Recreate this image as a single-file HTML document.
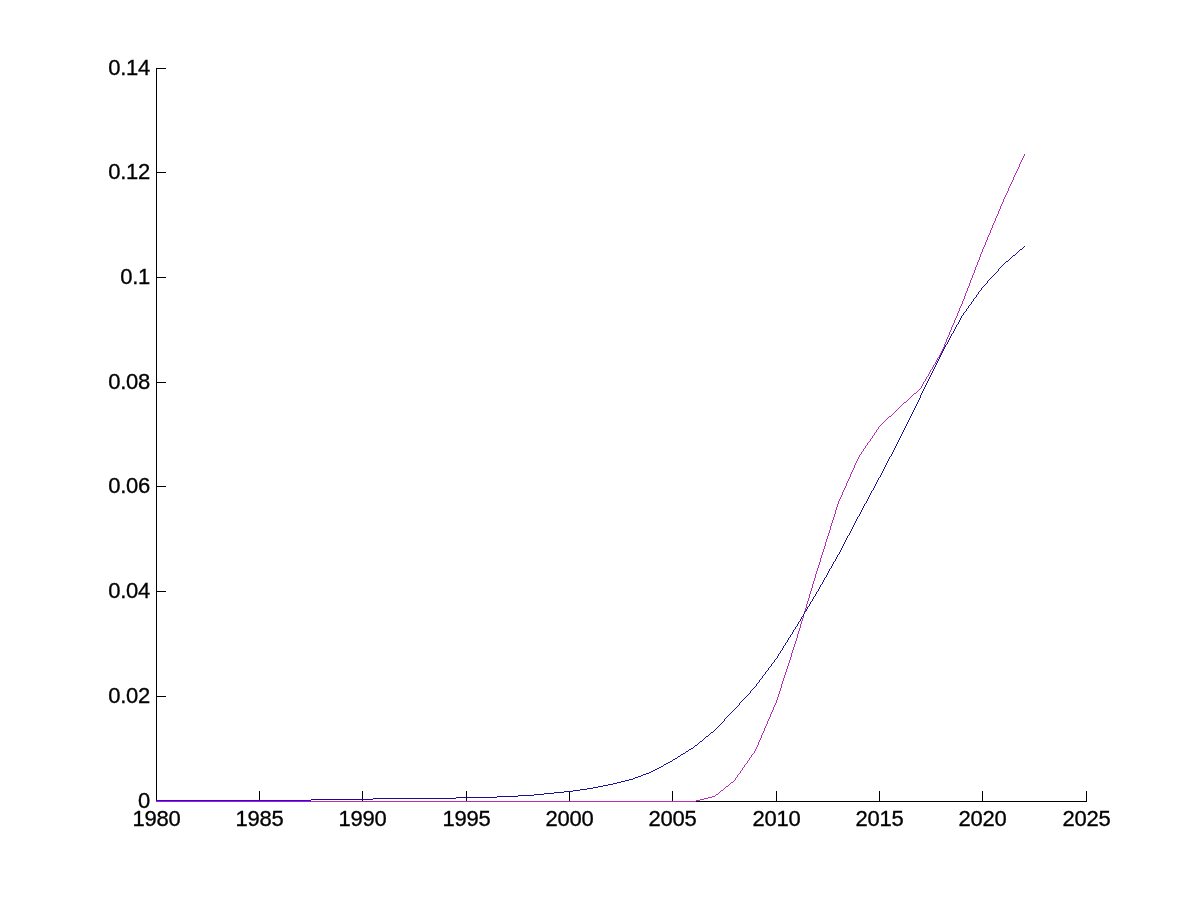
<!DOCTYPE html>
<html><head><meta charset="utf-8"><title>figure</title>
<style>
html,body{margin:0;padding:0;background:#fff}
svg{display:block}
text{font-family:"Liberation Sans",Arial,Helvetica,sans-serif;font-size:22px;fill:#000;stroke:#000;stroke-width:0.32px;letter-spacing:-0.22px}
</style></head><body>
<svg width="1200" height="900" viewBox="0 0 1200 900">
<rect width="1200" height="900" fill="#fff"/>
<g shape-rendering="crispEdges" stroke="none">
<g fill="#000">
<rect x="156" y="68" width="1" height="734"/>
<rect x="156" y="801" width="931" height="1"/>
<rect x="156" y="791" width="1" height="10"/>
<rect x="259" y="791" width="1" height="10"/>
<rect x="362" y="791" width="1" height="10"/>
<rect x="466" y="791" width="1" height="10"/>
<rect x="569" y="791" width="1" height="10"/>
<rect x="672" y="791" width="1" height="10"/>
<rect x="776" y="791" width="1" height="10"/>
<rect x="879" y="791" width="1" height="10"/>
<rect x="982" y="791" width="1" height="10"/>
<rect x="1086" y="791" width="1" height="10"/>
<rect x="156" y="801" width="10" height="1"/>
<rect x="156" y="696" width="10" height="1"/>
<rect x="156" y="591" width="10" height="1"/>
<rect x="156" y="486" width="10" height="1"/>
<rect x="156" y="382" width="10" height="1"/>
<rect x="156" y="277" width="10" height="1"/>
<rect x="156" y="172" width="10" height="1"/>
<rect x="156" y="68" width="10" height="1"/>
</g>
<path fill="#8c23f0" d="M156 801h155v1h-155z"/>
<path fill="#b92db9" d="M311 801h385v1h-385z"/>
<path fill="#b42cb4" d="M696 800h4v1h-4zM700 799h4v1h-4zM704 798h4v1h-4zM708 797h4v1h-4zM712 796h3v1h-3zM715 795h1v1h-1zM716 794h2v1h-2zM718 793h1v1h-1zM719 792h1v1h-1zM720 791h1v1h-1zM721 790h2v1h-2zM723 789h1v1h-1zM724 788h1v1h-1zM725 787h1v1h-1zM726 786h2v1h-2zM728 785h1v1h-1zM729 784h1v1h-1zM730 783h1v1h-1zM731 782h2v1h-2zM733 781h1v1h-1zM734 780h1v1h-1zM735 778h1v2h-1zM736 777h1v1h-1zM737 775h1v2h-1zM738 774h1v1h-1zM739 773h1v1h-1zM740 771h1v2h-1zM741 770h1v1h-1zM742 768h1v2h-1zM743 767h1v1h-1zM744 765h1v2h-1zM745 764h1v1h-1zM746 763h1v1h-1zM747 761h1v2h-1zM748 760h1v1h-1zM749 758h1v2h-1zM750 757h1v1h-1zM751 755h1v2h-1zM752 754h1v1h-1zM753 753h1v1h-1zM754 751h1v2h-1zM755 749h1v2h-1zM756 747h1v2h-1zM757 745h1v2h-1zM758 742h1v3h-1zM759 740h1v2h-1zM760 738h1v2h-1zM761 735h1v3h-1zM762 733h1v2h-1zM763 731h1v2h-1zM764 728h1v3h-1zM765 726h1v2h-1zM766 724h1v2h-1zM767 721h1v3h-1zM768 719h1v2h-1zM769 717h1v2h-1zM770 714h1v3h-1zM771 712h1v2h-1zM772 710h1v2h-1zM773 707h1v3h-1zM774 705h1v2h-1zM775 703h1v2h-1zM776 700h1v3h-1zM777 697h1v3h-1zM778 694h1v3h-1zM779 691h1v3h-1zM780 688h1v3h-1zM781 684h1v4h-1zM782 681h1v3h-1zM783 678h1v3h-1zM784 675h1v3h-1zM785 672h1v3h-1zM786 669h1v3h-1zM787 666h1v3h-1zM788 663h1v3h-1zM789 660h1v3h-1zM790 657h1v3h-1zM791 653h1v4h-1zM792 650h1v3h-1zM793 647h1v3h-1zM794 644h1v3h-1zM795 641h1v3h-1zM796 638h1v3h-1zM797 634h1v4h-1zM798 631h1v3h-1zM799 628h1v3h-1zM800 624h1v4h-1zM801 621h1v3h-1zM802 618h1v3h-1zM803 614h1v4h-1zM804 611h1v3h-1zM805 608h1v3h-1zM806 604h1v4h-1zM807 601h1v3h-1zM808 598h1v3h-1zM809 594h1v4h-1zM810 591h1v3h-1zM811 588h1v3h-1zM812 584h1v4h-1zM813 581h1v3h-1zM814 578h1v3h-1zM815 574h1v4h-1zM816 571h1v3h-1zM817 568h1v3h-1zM818 565h1v3h-1zM819 562h1v3h-1zM820 558h1v4h-1zM821 555h1v3h-1zM822 552h1v3h-1zM823 549h1v3h-1zM824 546h1v3h-1zM825 542h1v4h-1zM826 539h1v3h-1zM827 536h1v3h-1zM828 533h1v3h-1zM829 530h1v3h-1zM830 526h1v4h-1zM831 523h1v3h-1zM832 520h1v3h-1zM833 517h1v3h-1zM834 514h1v3h-1zM835 510h1v4h-1zM836 507h1v3h-1zM837 504h1v3h-1zM838 501h1v3h-1zM839 499h1v2h-1zM840 497h1v2h-1zM841 495h1v2h-1zM842 492h1v3h-1zM843 490h1v2h-1zM844 488h1v2h-1zM845 486h1v2h-1zM846 483h1v3h-1zM847 481h1v2h-1zM848 479h1v2h-1zM849 477h1v2h-1zM850 474h1v3h-1zM851 472h1v2h-1zM852 470h1v2h-1zM853 468h1v2h-1zM854 465h1v3h-1zM855 463h1v2h-1zM856 461h1v2h-1zM857 459h1v2h-1zM858 457h1v2h-1zM859 455h1v2h-1zM860 454h1v1h-1zM861 452h1v2h-1zM862 451h1v1h-1zM863 449h1v2h-1zM864 448h1v1h-1zM865 446h1v2h-1zM866 445h1v1h-1zM867 443h1v2h-1zM868 442h1v1h-1zM869 441h1v1h-1zM870 439h1v2h-1zM871 438h1v1h-1zM872 436h1v2h-1zM873 435h1v1h-1zM874 433h1v2h-1zM875 432h1v1h-1zM876 430h1v2h-1zM877 429h1v1h-1zM878 427h1v2h-1zM879 426h1v1h-1zM880 425h1v1h-1zM881 424h1v1h-1zM882 423h1v1h-1zM883 422h1v1h-1zM884 421h1v1h-1zM885 420h1v1h-1zM886 419h1v1h-1zM887 418h1v1h-1zM888 417h1v1h-1zM889 416h2v1h-2zM891 415h1v1h-1zM892 414h1v1h-1zM893 413h1v1h-1zM894 412h1v1h-1zM895 411h1v1h-1zM896 410h1v1h-1zM897 409h1v1h-1zM898 408h1v1h-1zM899 407h1v1h-1zM900 406h1v1h-1zM901 405h1v1h-1zM902 404h1v1h-1zM903 403h1v1h-1zM904 402h2v1h-2zM906 401h1v1h-1zM907 400h1v1h-1zM908 399h1v1h-1zM909 398h1v1h-1zM910 397h1v1h-1zM911 396h1v1h-1zM912 395h1v1h-1zM913 394h1v1h-1zM914 393h2v1h-2zM916 392h1v1h-1zM917 391h1v1h-1zM918 390h1v1h-1zM919 389h1v1h-1zM920 388h1v1h-1zM921 386h1v2h-1zM922 384h1v2h-1zM923 382h1v2h-1zM924 381h1v1h-1zM925 379h1v2h-1zM926 377h1v2h-1zM927 376h1v1h-1zM928 374h1v2h-1zM929 372h1v2h-1zM930 370h1v2h-1zM931 369h1v1h-1zM932 367h1v2h-1zM933 365h1v2h-1zM934 364h1v1h-1zM935 362h1v2h-1zM936 360h1v2h-1zM937 358h1v2h-1zM938 357h1v1h-1zM939 355h1v2h-1zM940 353h1v2h-1zM941 351h1v2h-1zM942 349h1v2h-1zM943 347h1v2h-1zM944 344h1v3h-1zM945 342h1v2h-1zM946 339h1v3h-1zM947 337h1v2h-1zM948 335h1v2h-1zM949 332h1v3h-1zM950 330h1v2h-1zM951 327h1v3h-1zM952 325h1v2h-1zM953 323h1v2h-1zM954 320h1v3h-1zM955 318h1v2h-1zM956 316h1v2h-1zM957 313h1v3h-1zM958 311h1v2h-1zM959 308h1v3h-1zM960 306h1v2h-1zM961 304h1v2h-1zM962 301h1v3h-1zM963 299h1v2h-1zM964 296h1v3h-1zM965 293h1v3h-1zM966 291h1v2h-1zM967 288h1v3h-1zM968 286h1v2h-1zM969 283h1v3h-1zM970 280h1v3h-1zM971 278h1v2h-1zM972 275h1v3h-1zM973 273h1v2h-1zM974 270h1v3h-1zM975 267h1v3h-1zM976 265h1v2h-1zM977 262h1v3h-1zM978 260h1v2h-1zM979 257h1v3h-1zM980 254h1v3h-1zM981 252h1v2h-1zM982 249h1v3h-1zM983 247h1v2h-1zM984 245h1v2h-1zM985 242h1v3h-1zM986 240h1v2h-1zM987 237h1v3h-1zM988 235h1v2h-1zM989 233h1v2h-1zM990 230h1v3h-1zM991 228h1v2h-1zM992 225h1v3h-1zM993 223h1v2h-1zM994 221h1v2h-1zM995 218h1v3h-1zM996 216h1v2h-1zM997 214h1v2h-1zM998 211h1v3h-1zM999 209h1v2h-1zM1000 206h1v3h-1zM1001 204h1v2h-1zM1002 202h1v2h-1zM1003 199h1v3h-1zM1004 197h1v2h-1zM1005 195h1v2h-1zM1006 193h1v2h-1zM1007 191h1v2h-1zM1008 188h1v3h-1zM1009 186h1v2h-1zM1010 184h1v2h-1zM1011 182h1v2h-1zM1012 180h1v2h-1zM1013 177h1v3h-1zM1014 175h1v2h-1zM1015 173h1v2h-1zM1016 171h1v2h-1zM1017 169h1v2h-1zM1018 167h1v2h-1zM1019 164h1v3h-1zM1020 162h1v2h-1zM1021 160h1v2h-1zM1022 158h1v2h-1zM1023 156h1v2h-1zM1024 154h1v2h-1z"/>
<path fill="#4b00b9" d="M156 800h155v1h-155z"/>
<path fill="#190c8c" d="M311 799h62v1h-62zM373 798h83v1h-83zM456 797h41v1h-41zM497 796h21v1h-21zM518 795h2v1h-2z"/>
<path fill="#161292" d="M520 795h14v1h-14zM534 794h10v1h-10zM544 793h10v1h-10zM554 792h10v1h-10zM564 791h9v1h-9zM573 790h7v1h-7zM580 789h7v1h-7zM587 788h6v1h-6zM593 787h5v1h-5zM598 786h5v1h-5zM603 785h5v1h-5zM608 784h5v1h-5zM613 783h4v1h-4zM617 782h4v1h-4zM621 781h4v1h-4zM625 780h4v1h-4zM629 779h4v1h-4zM633 778h2v1h-2zM635 777h3v1h-3zM638 776h3v1h-3zM641 775h2v1h-2zM643 774h3v1h-3zM646 773h3v1h-3zM649 772h2v1h-2zM651 771h2v1h-2zM653 770h2v1h-2zM655 769h2v1h-2zM657 768h2v1h-2zM659 767h2v1h-2zM661 766h2v1h-2zM663 765h1v1h-1zM664 764h2v1h-2zM666 763h2v1h-2zM668 762h2v1h-2zM670 761h2v1h-2zM672 760h1v1h-1zM673 759h2v1h-2zM675 758h2v1h-2zM677 757h1v1h-1zM678 756h2v1h-2zM680 755h1v1h-1zM681 754h2v1h-2zM683 753h2v1h-2zM685 752h1v1h-1zM686 751h2v1h-2zM688 750h1v1h-1zM689 749h2v1h-2zM691 748h2v1h-2zM693 747h1v1h-1zM694 746h1v1h-1zM695 745h2v1h-2zM697 744h1v1h-1zM698 743h1v1h-1zM699 742h1v1h-1zM700 741h2v1h-2zM702 740h1v1h-1zM703 739h1v1h-1zM704 738h1v1h-1zM705 737h1v1h-1zM706 736h2v1h-2zM708 735h1v1h-1zM709 734h1v1h-1zM710 733h1v1h-1zM711 732h2v1h-2zM713 731h1v1h-1zM714 730h1v1h-1zM715 729h1v1h-1zM716 728h1v1h-1zM717 727h1v1h-1zM718 726h1v1h-1zM719 725h1v1h-1zM720 724h1v1h-1zM721 723h1v1h-1zM722 722h1v1h-1zM723 721h1v1h-1zM724 719h1v2h-1zM725 718h1v1h-1zM726 717h1v1h-1zM727 716h1v1h-1zM728 715h1v1h-1zM729 714h1v1h-1zM730 713h1v1h-1zM731 712h1v1h-1zM732 711h1v1h-1zM733 710h1v1h-1zM734 709h1v1h-1zM735 708h1v1h-1zM736 707h1v1h-1zM737 706h1v1h-1zM738 705h1v1h-1zM739 703h1v2h-1zM740 702h1v1h-1zM741 701h1v1h-1zM742 700h1v1h-1zM743 699h1v1h-1zM744 698h1v1h-1zM745 697h1v1h-1zM746 696h1v1h-1zM747 695h1v1h-1zM748 694h1v1h-1zM749 693h1v1h-1zM750 691h1v2h-1zM751 690h1v1h-1zM752 689h1v1h-1zM753 688h1v1h-1zM754 687h1v1h-1zM755 686h1v1h-1zM756 684h1v2h-1zM757 683h1v1h-1zM758 682h1v1h-1zM759 680h1v2h-1zM760 679h1v1h-1zM761 678h1v1h-1zM762 676h1v2h-1zM763 675h1v1h-1zM764 674h1v1h-1zM765 672h1v2h-1zM766 671h1v1h-1zM767 670h1v1h-1zM768 668h1v2h-1zM769 667h1v1h-1zM770 666h1v1h-1zM771 664h1v2h-1zM772 663h1v1h-1zM773 662h1v1h-1zM774 660h1v2h-1zM775 659h1v1h-1zM776 658h1v1h-1zM777 656h1v2h-1zM778 654h1v2h-1zM779 653h1v1h-1zM780 651h1v2h-1zM781 650h1v1h-1zM782 648h1v2h-1zM783 646h1v2h-1zM784 645h1v1h-1zM785 643h1v2h-1zM786 642h1v1h-1zM787 640h1v2h-1zM788 638h1v2h-1zM789 637h1v1h-1zM790 635h1v2h-1zM791 634h1v1h-1zM792 632h1v2h-1zM793 630h1v2h-1zM794 629h1v1h-1zM795 627h1v2h-1zM796 626h1v1h-1zM797 624h1v2h-1zM798 622h1v2h-1zM799 621h1v1h-1zM800 619h1v2h-1zM801 617h1v2h-1zM802 616h1v1h-1zM803 614h1v2h-1zM804 612h1v2h-1zM805 611h1v1h-1zM806 609h1v2h-1zM807 607h1v2h-1zM808 606h1v1h-1zM809 604h1v2h-1zM810 602h1v2h-1zM811 601h1v1h-1zM812 599h1v2h-1zM813 597h1v2h-1zM814 596h1v1h-1zM815 594h1v2h-1zM816 592h1v2h-1zM817 591h1v1h-1zM818 589h1v2h-1zM819 587h1v2h-1zM820 585h1v2h-1zM821 584h1v1h-1zM822 582h1v2h-1zM823 580h1v2h-1zM824 578h1v2h-1zM825 577h1v1h-1zM826 575h1v2h-1zM827 573h1v2h-1zM828 571h1v2h-1zM829 569h1v2h-1zM830 568h1v1h-1zM831 566h1v2h-1zM832 564h1v2h-1zM833 562h1v2h-1zM834 561h1v1h-1zM835 559h1v2h-1zM836 557h1v2h-1zM837 555h1v2h-1zM838 554h1v1h-1zM839 552h1v2h-1zM840 550h1v2h-1zM841 548h1v2h-1zM842 546h1v2h-1zM843 544h1v2h-1zM844 542h1v2h-1zM845 540h1v2h-1zM846 538h1v2h-1zM847 536h1v2h-1zM848 535h1v1h-1zM849 533h1v2h-1zM850 531h1v2h-1zM851 529h1v2h-1zM852 527h1v2h-1zM853 525h1v2h-1zM854 523h1v2h-1zM855 521h1v2h-1zM856 519h1v2h-1zM857 517h1v2h-1zM858 516h1v1h-1zM859 514h1v2h-1zM860 512h1v2h-1zM861 510h1v2h-1zM862 508h1v2h-1zM863 506h1v2h-1zM864 504h1v2h-1zM865 503h1v1h-1zM866 501h1v2h-1zM867 499h1v2h-1zM868 497h1v2h-1zM869 495h1v2h-1zM870 493h1v2h-1zM871 491h1v2h-1zM872 490h1v1h-1zM873 488h1v2h-1zM874 486h1v2h-1zM875 484h1v2h-1zM876 482h1v2h-1zM877 480h1v2h-1zM878 478h1v2h-1zM879 477h1v1h-1zM880 475h1v2h-1zM881 473h1v2h-1zM882 471h1v2h-1zM883 469h1v2h-1zM884 467h1v2h-1zM885 465h1v2h-1zM886 463h1v2h-1zM887 461h1v2h-1zM888 459h1v2h-1zM889 457h1v2h-1zM890 456h1v1h-1zM891 454h1v2h-1zM892 452h1v2h-1zM893 450h1v2h-1zM894 448h1v2h-1zM895 446h1v2h-1zM896 444h1v2h-1zM897 442h1v2h-1zM898 440h1v2h-1zM899 438h1v2h-1zM900 436h1v2h-1zM901 434h1v2h-1zM902 432h1v2h-1zM903 430h1v2h-1zM904 428h1v2h-1zM905 426h1v2h-1zM906 424h1v2h-1zM907 422h1v2h-1zM908 420h1v2h-1zM909 418h1v2h-1zM910 416h1v2h-1zM911 414h1v2h-1zM912 412h1v2h-1zM913 410h1v2h-1zM914 408h1v2h-1zM915 406h1v2h-1zM916 404h1v2h-1zM917 402h1v2h-1zM918 400h1v2h-1zM919 398h1v2h-1zM920 395h1v3h-1zM921 393h1v2h-1zM922 391h1v2h-1zM923 389h1v2h-1zM924 387h1v2h-1zM925 385h1v2h-1zM926 383h1v2h-1zM927 381h1v2h-1zM928 379h1v2h-1zM929 377h1v2h-1zM930 375h1v2h-1zM931 373h1v2h-1zM932 371h1v2h-1zM933 369h1v2h-1zM934 367h1v2h-1zM935 365h1v2h-1zM936 363h1v2h-1zM937 361h1v2h-1zM938 359h1v2h-1zM939 357h1v2h-1zM940 355h1v2h-1zM941 353h1v2h-1zM942 351h1v2h-1zM943 349h1v2h-1zM944 347h1v2h-1zM945 345h1v2h-1zM946 344h1v1h-1zM947 342h1v2h-1zM948 340h1v2h-1zM949 338h1v2h-1zM950 336h1v2h-1zM951 334h1v2h-1zM952 333h1v1h-1zM953 331h1v2h-1zM954 329h1v2h-1zM955 327h1v2h-1zM956 325h1v2h-1zM957 324h1v1h-1zM958 322h1v2h-1zM959 320h1v2h-1zM960 318h1v2h-1zM961 316h1v2h-1zM962 315h1v1h-1zM963 313h1v2h-1zM964 312h1v1h-1zM965 311h1v1h-1zM966 309h1v2h-1zM967 308h1v1h-1zM968 306h1v2h-1zM969 305h1v1h-1zM970 304h1v1h-1zM971 302h1v2h-1zM972 301h1v1h-1zM973 299h1v2h-1zM974 298h1v1h-1zM975 297h1v1h-1zM976 295h1v2h-1zM977 294h1v1h-1zM978 292h1v2h-1zM979 291h1v1h-1zM980 290h1v1h-1zM981 288h1v2h-1zM982 287h1v1h-1zM983 286h1v1h-1zM984 285h1v1h-1zM985 284h1v1h-1zM986 283h1v1h-1zM987 281h1v2h-1zM988 280h1v1h-1zM989 279h1v1h-1zM990 278h1v1h-1zM991 277h1v1h-1zM992 276h1v1h-1zM993 275h1v1h-1zM994 274h1v1h-1zM995 273h1v1h-1zM996 272h1v1h-1zM997 271h1v1h-1zM998 269h1v2h-1zM999 268h1v1h-1zM1000 267h1v1h-1zM1001 266h1v1h-1zM1002 265h1v1h-1zM1003 264h1v1h-1zM1004 263h1v1h-1zM1005 262h1v1h-1zM1006 261h2v1h-2zM1008 260h1v1h-1zM1009 259h1v1h-1zM1010 258h1v1h-1zM1011 257h1v1h-1zM1012 256h1v1h-1zM1013 255h2v1h-2zM1015 254h1v1h-1zM1016 253h1v1h-1zM1017 252h1v1h-1zM1018 251h1v1h-1zM1019 250h1v1h-1zM1020 249h2v1h-2zM1022 248h1v1h-1zM1023 247h1v1h-1zM1024 246h1v1h-1z"/>
</g>
<g text-anchor="middle">
<text x="156.5" y="825.8">1980</text>
<text x="259.5" y="825.8">1985</text>
<text x="362.5" y="825.8">1990</text>
<text x="466.5" y="825.8">1995</text>
<text x="569.5" y="825.8">2000</text>
<text x="672.5" y="825.8">2005</text>
<text x="776.5" y="825.8">2010</text>
<text x="879.5" y="825.8">2015</text>
<text x="982.5" y="825.8">2020</text>
<text x="1086.5" y="825.8">2025</text>
</g>
<g text-anchor="end">
<text x="150.1" y="808.3">0</text>
<text x="150.1" y="703.3">0.02</text>
<text x="150.1" y="598.3">0.04</text>
<text x="150.1" y="493.3">0.06</text>
<text x="150.1" y="389.3">0.08</text>
<text x="150.1" y="284.3">0.1</text>
<text x="150.1" y="179.3">0.12</text>
<text x="150.1" y="75.3">0.14</text>
</g>
</svg>
</body></html>
